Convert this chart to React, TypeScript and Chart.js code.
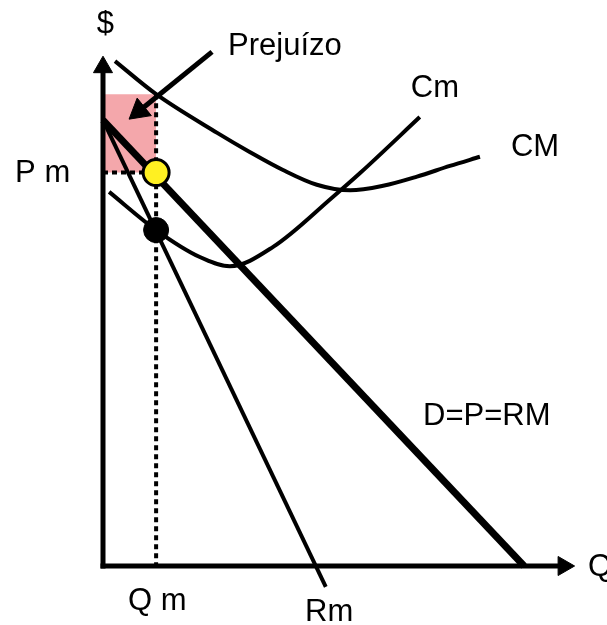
import React, { useEffect, useRef } from "react";
import { Chart, registerables } from "chart.js";

Chart.register(...registerables);

// Economic quantities (abstract units: quantity 0..~100, price 0..~100)
const qm = 11.3; // quantidade do monopolista
const pm = 77.3; // preço do monopolista
const acAtQm = 92.7; // custo médio em Qm
const mcAtQm = 66.0; // custo marginal em Qm
const axisEnd = 98; // extremidade das setas dos eixos

// Demanda: D = P = RM
const demandQ = [0, 89.6];
const demandP = [87.6, 0];

// Receita marginal: Rm
const mrQ = [0, 47.4];
const mrP = [87.6, -4.1];

// Custo marginal: Cm
const mcQ = [1.3, 11.3, 20.6, 27.0, 36.2, 48.9, 54.7, 67.4];
const mcP = [73.5, 66.0, 60.7, 58.9, 62.7, 72.5, 77.2, 88.2];

// Custo médio: CM
const acQ = [2.55, 11.3, 24.3, 31.3, 38.3, 45.5, 52.6, 59.6, 66.8, 73.8, 80.2];
const acP = [99.2, 92.7, 85.1, 81.3, 77.8, 74.9, 73.8, 74.7, 76.5, 78.6, 80.4];

// Seta "Prejuízo"
const lossArrowQ = [23.2, 7.7];
const lossArrowP = [101.0, 89.4];

// Rótulos (texto, x, y)
const labelText = ["$", "Prejuízo", "Cm", "CM", "P m", "D=P=RM", "Q m", "Rm", "Q"];
const labelQ = [0.5, 26.6, 65.5, 86.8, -18.7, 68.1, 5.3, 43.0, 103.2];
const labelP = [106.3, 100.4, 92.1, 80.6, 75.4, 27.7, -8.6, -10.8, -2.0];

const zip = (xs: number[], ys: number[]) => xs.map((x, i) => ({ x, y: ys[i] }));

const labelsPlugin = {
  id: "labels",
  afterDatasetsDraw(chart: any) {
    const { ctx, scales } = chart;
    ctx.save();
    ctx.fillStyle = "#000";
    ctx.font = '31px "Liberation Sans", Arial, sans-serif';
    labelText.forEach((t, i) => {
      const px = scales.x.getPixelForValue(labelQ[i]);
      const py = scales.y.getPixelForValue(labelP[i]);
      if (t === "$") {
        ctx.textAlign = "center";
        ctx.textBaseline = "middle";
      } else {
        ctx.textAlign = "left";
        ctx.textBaseline = "alphabetic";
      }
      ctx.fillText(t, px, py);
    });
    ctx.restore();
  },
};

export default function App() {
  const ref = useRef<HTMLCanvasElement | null>(null);

  useEffect(() => {
    if (!ref.current) return;
    const black = "#000";
    const chart = new Chart(ref.current, {
      type: "line",
      data: {
        datasets: [
          {
            label: "Pm",
            data: [{ x: qm, y: pm }],
            showLine: false,
            pointRadius: 13,
            pointBackgroundColor: "#fff022",
            pointBorderColor: black,
            pointBorderWidth: 3,
          },
          {
            label: "Cm=Rm",
            data: [{ x: qm, y: mcAtQm }],
            showLine: false,
            pointRadius: 12.5,
            pointBackgroundColor: black,
            pointBorderColor: black,
            pointBorderWidth: 1,
          },
          {
            label: "Prejuízo seta",
            data: zip(lossArrowQ, lossArrowP),
            borderColor: black,
            borderWidth: 5,
            pointRadius: [0, 13],
            pointStyle: "triangle",
            pointRotation: 231,
            pointBackgroundColor: black,
            pointBorderColor: black,
            pointBorderWidth: 1,
          },
          {
            label: "eixo y",
            data: [{ x: 0, y: 0 }, { x: 0, y: axisEnd }],
            borderColor: black,
            borderWidth: 5,
            borderCapStyle: "square",
            pointRadius: [0, 11],
            pointStyle: "triangle",
            pointRotation: 0,
            pointBackgroundColor: black,
            pointBorderColor: black,
            pointBorderWidth: 1,
          },
          {
            label: "eixo x",
            data: [{ x: 0, y: 0 }, { x: axisEnd, y: 0 }],
            borderColor: black,
            borderWidth: 5,
            borderCapStyle: "square",
            pointRadius: [0, 11],
            pointStyle: "triangle",
            pointRotation: 90,
            pointBackgroundColor: black,
            pointBorderColor: black,
            pointBorderWidth: 1,
          },
          {
            label: "D=P=RM",
            data: zip(demandQ, demandP),
            borderColor: black,
            borderWidth: 7,
            pointRadius: 0,
          },
          {
            label: "Rm",
            data: zip(mrQ, mrP),
            borderColor: black,
            borderWidth: 4,
            pointRadius: 0,
          },
          {
            label: "Cm",
            data: zip(mcQ, mcP),
            borderColor: black,
            borderWidth: 4,
            pointRadius: 0,
            cubicInterpolationMode: "monotone",
          },
          {
            label: "CM",
            data: zip(acQ, acP),
            borderColor: black,
            borderWidth: 4,
            pointRadius: 0,
            cubicInterpolationMode: "monotone",
          },
          {
            label: "Qm",
            data: [{ x: qm, y: acAtQm }, { x: qm, y: 0 }],
            borderColor: black,
            borderWidth: 4,
            borderDash: [5, 4],
            pointRadius: 0,
          },
          {
            label: "Pm linha",
            data: [{ x: 0, y: pm }, { x: qm, y: pm }],
            borderColor: black,
            borderWidth: 4,
            borderDash: [5, 4],
            pointRadius: 0,
          },
          {
            label: "Prejuízo",
            data: [{ x: 0, y: acAtQm }, { x: qm, y: acAtQm }],
            borderWidth: 0,
            borderColor: "rgba(0,0,0,0)",
            backgroundColor: "rgb(244,167,171)",
            fill: { value: pm },
            pointRadius: 0,
          },
        ],
      },
      options: {
        animation: false,
        responsive: false,
        events: [],
        layout: { padding: 0, autoPadding: false },
        plugins: {
          legend: { display: false },
          tooltip: { enabled: false },
          title: { display: false },
        },
        scales: {
          x: { type: "linear", min: -103 / 4.7, max: 504 / 4.7, display: false },
          y: { type: "linear", min: -59 / 5.09, max: 566 / 5.09, display: false },
        },
      },
      plugins: [labelsPlugin],
    } as any);
    return () => chart.destroy();
  }, []);

  return (
    <div style={{ position: "fixed", left: 0, top: 0, width: 607, height: 625, background: "#fff" }}>
      <canvas ref={ref} width={607} height={625} style={{ display: "block", width: 607, height: 625 }} />
    </div>
  );
}
